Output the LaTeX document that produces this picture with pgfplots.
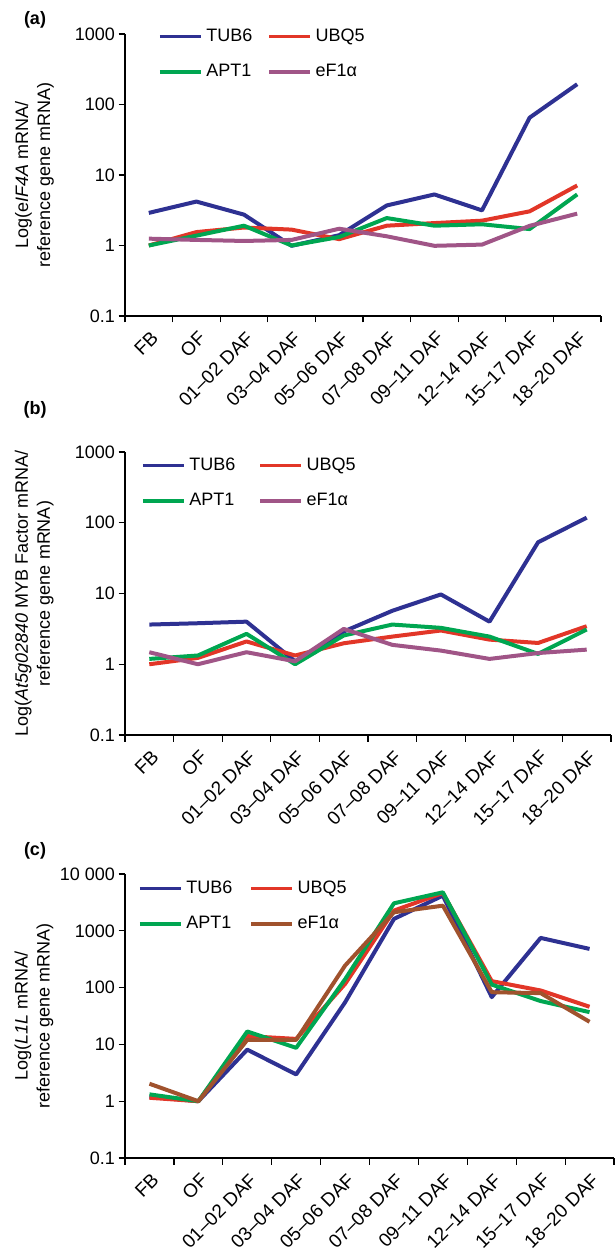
\documentclass[border=0pt]{standalone}
\usepackage{pgfplots}
\usepackage{pgfplotstable}
\pgfplotsset{compat=1.18}
\usepackage{fontspec}
\setmainfont{Liberation Sans}
\definecolor{cTUB}{RGB}{46,49,146}
\definecolor{cUBQ}{RGB}{226,54,40}
\definecolor{cAPT}{RGB}{0,166,81}
\definecolor{cEFm}{RGB}{160,85,135}
\definecolor{cEFb}{RGB}{160,82,45}

\pgfplotstableread{
x    tub   ubq   apt   ef
0.5  2.9   1.0   1.0   1.25
1.5  4.2   1.55  1.38  1.2
2.5  2.74  1.8   1.91  1.16
3.5  0.99  1.68  1.0   1.2
4.5  1.4   1.23  1.32  1.73
5.5  3.7   1.91  2.45  1.35
6.5  5.3   2.08  1.91  0.99
7.5  3.15  2.25  2.0   1.03
8.5  65    3.05  1.71  1.9
9.5  194   7.1   5.3   2.83
}\dataA

\pgfplotstableread{
x    tub   ubq   apt   ef
0.5  3.64  1.0   1.19  1.48
1.5  3.8   1.23  1.33  1.0
2.5  4.0   2.1   2.69  1.48
3.5  1.1   1.33  1.0   1.1
4.5  2.9   1.98  2.55  3.16
5.5  5.7   2.46  3.64  1.88
6.5  9.7   3.0   3.27  1.56
7.5  4.0   2.23  2.46  1.19
8.5  53    2.0   1.4   1.44
9.5  118   3.45  3.1   1.61
}\dataB

\pgfplotstableread{
x    tub   ubq   apt   ef
0.5  1.2   1.15  1.32  2.03
1.5  1.0   1.0   1.0   1.0
2.5  8.1   14    16.9  12
3.5  2.96  12.5  8.7   12
4.5  55    116   140   244
5.5  1620  2270  3050  2120
6.5  4160  4630  4760  2770
7.5  68    130   113   83
8.5  750   89    58    80
9.5  480   46    37    25
}\dataC

\pgfplotsset{
  every axis/.append style={
    scale only axis,
    axis lines=left,
    axis line style={-, line width=1.2pt, black},
    xmin=0, xmax=10,
    xtick={0,1,...,10},
    xticklabels={},
    extra x ticks={0.5,1.5,2.5,3.5,4.5,5.5,6.5,7.5,8.5,9.5},
    extra x tick labels={FB,OF,01--02 DAF,03--04 DAF,05--06 DAF,07--08 DAF,09--11 DAF,12--14 DAF,15--17 DAF,18--20 DAF},
    extra x tick style={major tick length=0pt,
      tick label style={font=\fontsize{19}{22}\selectfont, xshift=6pt, yshift=-19pt, rotate=45, anchor=east, inner sep=0pt}},
    tick align=outside,
    major tick length=6.5pt,
    tick style={line width=1.2pt, black},
    minor y tick style={draw=none},
    tick label style={font=\fontsize{18}{21}\selectfont},
    label style={font=\fontsize{18}{22}\selectfont},
    ylabel style={align=center, anchor=center},
    legend columns=2,
    legend style={draw=none, fill=none, at={(axis description cs:0,1)}, anchor=north west,
      inner sep=0pt, row sep=19pt, font=\fontsize{18}{21}\selectfont,
      nodes={inner sep=0pt, text height=13pt, text depth=3.5pt, anchor=west}},
    clip=false,
  },
  ln/.style={line width=4pt, line join=round, mark=none},
  legend image code/.code={\draw[#1, line width=3.2pt] (0pt,0pt) -- (41pt,0pt);},
}

\begin{document}
\begin{tikzpicture}
\useasboundingbox (0,0) rectangle (614pt,-1249pt);

\node[font=\bfseries\fontsize{18}{21}\selectfont] at (35pt,-20pt) {(a)};
\node[font=\bfseries\fontsize{18}{21}\selectfont] at (35pt,-410pt) {(b)};
\node[font=\bfseries\fontsize{18}{21}\selectfont] at (35pt,-851pt) {(c)};

\begin{axis}[
  at={(125pt,-316pt)}, anchor=south west,
  width=476pt, height=282pt,
  ymode=log, ymin=0.1, ymax=1000,
  ytick={0.1,1,10,100,1000}, yticklabels={0.1,1,10,100,1000},
  ylabel={Log(e\textit{IF4A} mRNA/\\reference gene mRNA)},
  ylabel style={at={(axis description cs:-0.190,0.5)}},
  legend style={xshift=33pt, yshift=6pt,
    /tikz/every odd column/.append style={column sep=4pt},
    /tikz/every even column/.append style={column sep=15pt}},
]
\addplot[cTUB, ln] table[x=x,y=tub]{\dataA};
\addplot[cUBQ, ln] table[x=x,y=ubq]{\dataA};
\addplot[cAPT, ln] table[x=x,y=apt]{\dataA};
\addplot[cEFm, ln] table[x=x,y=ef]{\dataA};
\legend{TUB6,UBQ5,APT1,eF1α}
\end{axis}

\begin{axis}[
  at={(125pt,-735pt)}, anchor=south west,
  width=486pt, height=283pt,
  ymode=log, ymin=0.1, ymax=1000,
  ytick={0.1,1,10,100,1000}, yticklabels={0.1,1,10,100,1000},
  ylabel={Log(\textit{At5g02840} MYB Factor mRNA/\\reference gene mRNA)},
  ylabel style={at={(axis description cs:-0.187,0.5)}},
  legend style={xshift=16pt, yshift=-5pt,
    /tikz/every odd column/.append style={column sep=4pt},
    /tikz/every even column/.append style={column sep=23pt}},
]
\addplot[cTUB, ln] table[x=x,y=tub]{\dataB};
\addplot[cUBQ, ln] table[x=x,y=ubq]{\dataB};
\addplot[cAPT, ln] table[x=x,y=apt]{\dataB};
\addplot[cEFm, ln] table[x=x,y=ef]{\dataB};
\legend{TUB6,UBQ5,APT1,eF1α}
\end{axis}

\begin{axis}[
  at={(125pt,-1158pt)}, anchor=south west,
  width=489pt, height=284pt,
  ymode=log, ymin=0.1, ymax=10000,
  ytick={0.1,1,10,100,1000,10000}, yticklabels={0.1,1,10,100,1000,10 000},
  ylabel={Log(\textit{L1L} mRNA/\\reference gene mRNA)},
  ylabel style={at={(axis description cs:-0.186,0.5)}},
  legend style={xshift=13pt, yshift=-6pt,
    /tikz/every odd column/.append style={column sep=4pt},
    /tikz/every even column/.append style={column sep=17pt}},
]
\addplot[cTUB, ln] table[x=x,y=tub]{\dataC};
\addplot[cUBQ, ln] table[x=x,y=ubq]{\dataC};
\addplot[cAPT, ln] table[x=x,y=apt]{\dataC};
\addplot[cEFb, ln] table[x=x,y=ef]{\dataC};
\legend{TUB6,UBQ5,APT1,eF1α}
\end{axis}
\end{tikzpicture}
\end{document}
